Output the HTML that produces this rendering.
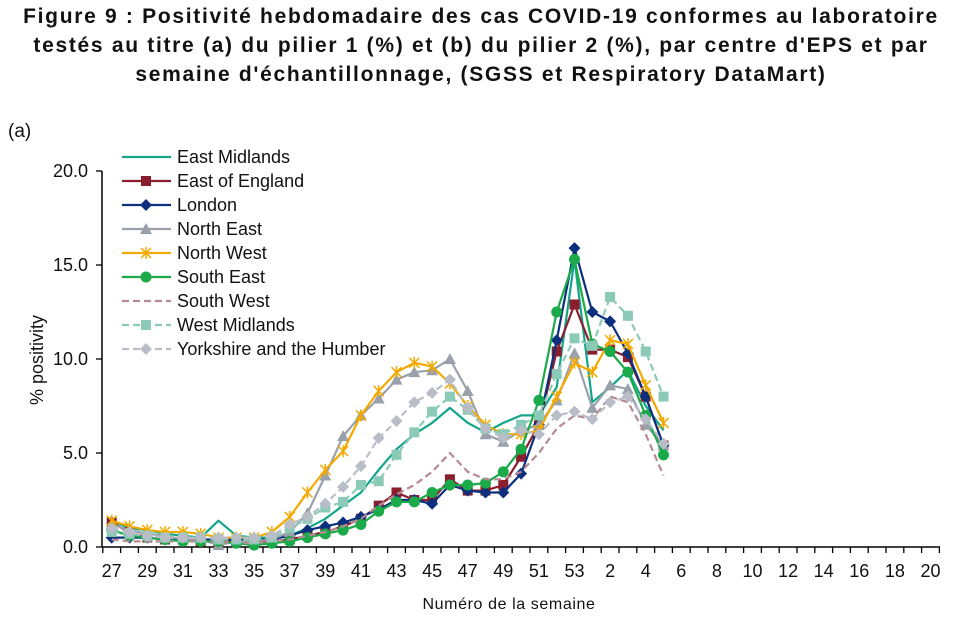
<!DOCTYPE html>
<html><head><meta charset="utf-8">
<style>
html,body{margin:0;padding:0;background:#fff;}
body{width:962px;height:637px;overflow:hidden;position:relative;font-family:"Liberation Sans",Arial,sans-serif;}
.t{position:absolute;left:0;width:962px;text-align:center;font-weight:bold;font-size:21px;letter-spacing:1.7px;color:#111;white-space:nowrap;}
</style></head><body>
<div class="t" style="top:5px">Figure 9 : Positivité hebdomadaire des cas COVID-19 conformes au laboratoire</div>
<div class="t" style="top:34px">testés au titre (a) du pilier 1 (%) et (b) du pilier 2 (%), par centre d'EPS et par</div>
<div class="t" style="top:63px">semaine d'échantillonnage, (SGSS et Respiratory DataMart)</div>
<svg id="s" width="962" height="637" style="position:absolute;left:0;top:0" xmlns="http://www.w3.org/2000/svg"></svg>
<script>
var s=document.getElementById('s'),NS='http://www.w3.org/2000/svg';
function el(n,a,t){var e=document.createElementNS(NS,n);for(var k in a)e.setAttribute(k,a[k]);if(t!=null)e.textContent=t;s.appendChild(e);return e;}
function X(i){return 111.7+17.8*i;}
function Y(v){return 547-18.8*v;}
el('text',{x:8,y:137,'font-size':19,fill:'#111'},'(a)');
el('line',{x1:102,y1:171,x2:102,y2:547,stroke:'#000','stroke-width':1.5});
el('line',{x1:102,y1:547,x2:940,y2:547,stroke:'#000','stroke-width':1.5});
[0,5,10,15,20].forEach(function(v){el('line',{x1:96,y1:Y(v),x2:102,y2:Y(v),stroke:'#000','stroke-width':1.3});
el('text',{x:88,y:Y(v)+6,'font-size':18,'text-anchor':'end',fill:'#111'},v.toFixed(1));});
for(var i=0;i<=47;i++){el('line',{x1:102.8+17.8*i,y1:547,x2:102.8+17.8*i,y2:553,stroke:'#000','stroke-width':1.3});}
var wk=[];for(var w=27;w<=53;w++)wk.push(w);for(w=1;w<=20;w++)wk.push(w);
for(i=0;i<wk.length;i+=2)el('text',{x:X(i),y:577,'font-size':18,'text-anchor':'middle',fill:'#111'},wk[i]);
el('text',{x:509,y:609,'font-size':16,'text-anchor':'middle',fill:'#111','letter-spacing':'0.6'},'Numéro de la semaine');
el('text',{x:0,y:0,'font-size':18,'text-anchor':'middle',fill:'#111',transform:'translate(43,360) rotate(-90)'},'% positivity');
var S=[
['East Midlands','#13a58a',0,'none',[1.4,1.0,0.9,0.7,0.6,0.5,1.4,0.6,0.5,0.5,0.6,1.0,1.5,2.2,2.9,4.1,5.2,6.0,6.6,7.4,6.6,6.1,6.6,7.0,7.0,8.5,15.3,7.7,8.5,9.4,7.5,6.2]],
['East of England','#8b1e2e',0,'sq',[1.3,0.8,0.5,0.4,0.4,0.3,0.3,0.3,0.3,0.3,0.4,0.6,0.8,1.1,1.5,2.2,2.9,2.5,2.5,3.6,3.0,3.0,3.3,4.8,6.5,10.4,12.9,10.5,10.5,10.1,8.0,5.4]],
['London','#0c2f7e',0,'dia',[0.5,0.5,0.5,0.4,0.4,0.4,0.4,0.4,0.4,0.4,0.6,0.9,1.1,1.3,1.6,2.0,2.5,2.5,2.3,3.3,3.0,2.9,2.9,3.9,6.5,11.0,15.9,12.5,12.0,10.3,8.0,5.4]],
['North East','#9aa1ab',0,'tri',[1.2,0.9,0.7,0.6,0.4,0.4,0.1,0.3,0.3,0.4,0.8,1.8,3.8,5.9,7.0,7.9,8.9,9.3,9.4,10.0,8.3,6.0,5.6,6.2,6.5,7.8,10.3,7.4,8.6,8.4,6.5,5.4]],
['North West','#f2aa00',0,'ast',[1.4,1.1,0.9,0.8,0.8,0.7,0.5,0.5,0.5,0.8,1.6,2.9,4.1,5.1,7.0,8.3,9.3,9.8,9.6,8.7,7.5,6.5,6.0,6.0,6.2,8.0,9.8,9.3,11.0,10.8,8.6,6.6]],
['South East','#1aaa4a',0,'cir',[0.9,0.6,0.5,0.4,0.3,0.3,0.3,0.2,0.1,0.2,0.3,0.5,0.7,0.9,1.2,1.9,2.4,2.4,2.9,3.3,3.3,3.4,4.0,5.2,7.8,12.5,15.3,10.8,10.4,9.3,7.0,4.9]],
['South West','#b58a94',1,'none',[0.4,0.3,0.3,0.3,0.3,0.3,0.3,0.2,0.2,0.3,0.4,0.6,0.8,1.1,1.5,2.2,2.8,3.3,4.0,5.0,4.0,3.6,3.6,4.0,5.0,6.3,7.0,6.8,8.0,7.7,6.0,3.8]],
['West Midlands','#8ccab8',1,'sq',[0.8,0.7,0.6,0.5,0.5,0.5,0.4,0.4,0.4,0.5,1.0,1.5,2.1,2.4,3.3,3.5,4.9,6.1,7.2,8.0,7.3,6.3,6.0,6.5,7.0,9.2,11.1,10.7,13.3,12.3,10.4,8.0]],
['Yorkshire and the Humber','#b9bdc7',1,'dia',[1.0,0.8,0.6,0.5,0.5,0.5,0.5,0.5,0.5,0.6,1.2,1.6,2.3,3.2,4.3,5.8,6.7,7.7,8.2,8.9,7.4,6.3,5.8,6.2,6.0,7.0,7.2,6.8,7.7,8.0,6.8,5.5]]
];
function mk(t,x,y,c){
 if(t=='sq')el('rect',{x:x-5,y:y-5,width:10,height:10,fill:c});
 else if(t=='dia')el('polygon',{points:(x)+','+(y-6)+' '+(x+6)+','+y+' '+x+','+(y+6)+' '+(x-6)+','+y,fill:c});
 else if(t=='tri')el('polygon',{points:x+','+(y-6)+' '+(x+6)+','+(y+5)+' '+(x-6)+','+(y+5),fill:c});
 else if(t=='cir')el('circle',{cx:x,cy:y,r:5.5,fill:c});
 else if(t=='ast'){el('path',{d:'M'+(x-5)+' '+(y-5)+'L'+(x+5)+' '+(y+5)+'M'+(x+5)+' '+(y-5)+'L'+(x-5)+' '+(y+5)+'M'+x+' '+(y-6)+'L'+x+' '+(y+6),stroke:c,'stroke-width':1.5});}
}
S.forEach(function(r,k){
 var p=r[4].map(function(v,i){return X(i).toFixed(1)+','+Y(v).toFixed(1);}).join(' ');
 var a={points:p,fill:'none',stroke:r[1],'stroke-width':2.2,'stroke-linejoin':'round'};
 if(r[2])a['stroke-dasharray']='7,4';
 el('polyline',a);
 r[4].forEach(function(v,i){mk(r[3],X(i),Y(v),r[1]);});
 var ly=157+24*k;
 var b={x1:122,y1:ly,x2:171,y2:ly,stroke:r[1],'stroke-width':2.2};if(r[2])b['stroke-dasharray']='7,4';
 el('line',b);mk(r[3],146,ly,r[1]);
 el('text',{x:177,y:ly+6,'font-size':18,fill:'#111'},r[0]);
});
</script>
</body></html>
